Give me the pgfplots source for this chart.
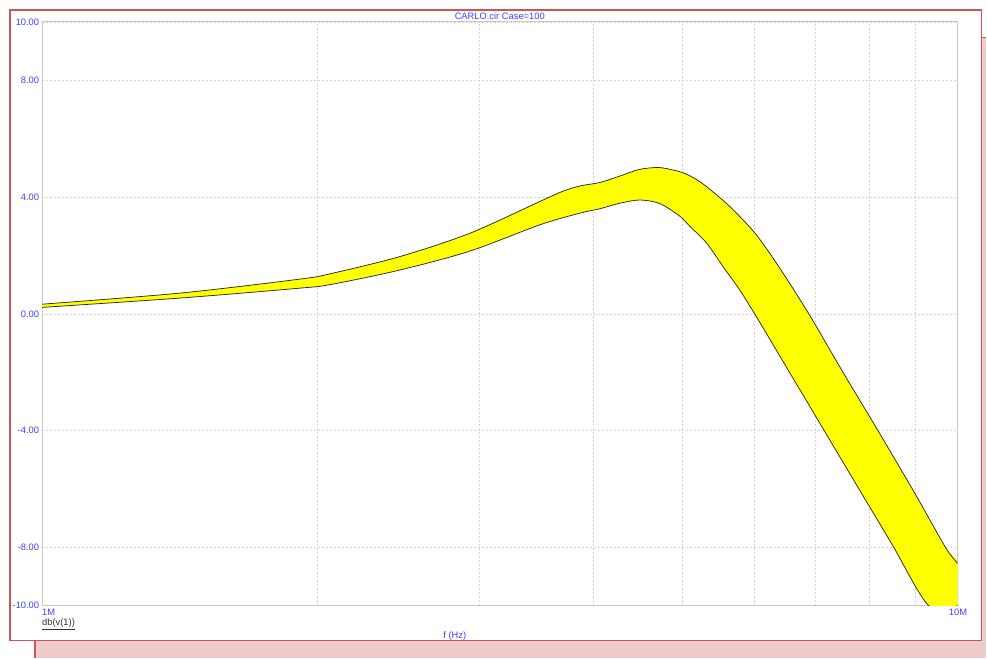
\documentclass[border=0pt]{standalone}
\usepackage{fontspec}
\setmainfont{Liberation Sans}
\usepackage{pgfplots}
\pgfplotsset{compat=1.18}
\definecolor{lblue}{RGB}{64,64,255}
\definecolor{winred}{RGB}{208,84,84}
\definecolor{shpink}{RGB}{238,204,204}
\definecolor{gridgray}{RGB}{212,212,212}
\definecolor{framegray}{RGB}{200,200,200}
\definecolor{bandyellow}{RGB}{255,255,0}
\begin{document}
\fontsize{7}{8.4}\selectfont
\begin{tikzpicture}
\begin{scope}[x=0.75pt,y=0.75pt]
\path (0,0) rectangle (987,658);
\fill[shpink] (35,0) rectangle (987,620);
\draw[winred, line width=0.8pt] (35,0) -- (35,620) -- (987,620);
\filldraw[fill=white, draw=winred, line width=1.1pt] (10,17) rectangle (982,648);
\end{scope}
\begin{axis}[
  at={(31.5pt,39pt)}, anchor=south west,
  scale only axis, width=687pt, height=438pt,
  xmode=log, xmin=1e6, xmax=1e7, ymin=-10, ymax=10,
  xtick={1e6,1e7}, xticklabel=\empty,
  ytick={-10,-8,-4,0,4,8,10},
  yticklabels={-10.00,-8.00,-4.00,0.00,4.00,8.00,10.00},
  yticklabel style={font=\fontsize{7}{8}\selectfont, text=lblue, inner sep=0pt, xshift=-2pt},
  major tick length=0pt, minor tick length=0pt,
  ymajorgrids, xminorgrids,
  grid style={gridgray, dash pattern=on 1.5pt off 1.5pt, line width=0.4pt},
  minor grid style={gridgray, dash pattern=on 1.5pt off 1.5pt, line width=0.4pt},
  axis line style={framegray, line width=0.75pt},
  clip=true,
]
% band: upper edge forward, lower edge backward
\addplot[fill=bandyellow, draw=none, smooth, tension=0.5] coordinates {
(1.000e6,0.33) (1.415e6,0.71) (1.913e6,1.19) (2.063e6,1.37) (2.459e6,1.96)
(2.933e6,2.76) (3.498e6,3.85) (3.706e6,4.20) (3.868e6,4.38) (4.067e6,4.50)
(4.276e6,4.72) (4.496e6,4.95) (4.728e6,5.01) (4.971e6,4.87) (5.099e6,4.73)
(5.228e6,4.53) (5.362e6,4.27) (5.638e6,3.68) (5.977e6,2.85) (6.234e6,2.08)
(6.554e6,1.05) (6.836e6,0.14) (7.010e6,-0.43) (7.432e6,-1.80) (7.816e6,-2.95)
(8.257e6,-4.20) (9.0e6,-6.20) (9.7e6,-8.00) (1e7,-8.55)
(1e7,-10.00) (9.3e6,-10.00) (8.5e6,-7.95) (8.015e6,-6.61) (7.188e6,-4.12)
(6.836e6,-2.97) (6.554e6,-2.01) (6.286e6,-1.05) (6.003e6,0.00) (5.781e6,0.82)
(5.544e6,1.62) (5.318e6,2.43) (5.099e6,3.00) (4.971e6,3.35) (4.728e6,3.78)
(4.496e6,3.90) (4.276e6,3.79) (4.067e6,3.60) (3.868e6,3.45) (3.498e6,3.05)
(2.933e6,2.15) (2.459e6,1.50) (2.063e6,1.00) (1.913e6,0.88) (1.415e6,0.54)
(1.000e6,0.22)};
\addplot[black!85, line width=0.55pt, smooth, tension=0.5] coordinates {
(1.000e6,0.33) (1.415e6,0.71) (1.913e6,1.19) (2.063e6,1.37) (2.459e6,1.96)
(2.933e6,2.76) (3.498e6,3.85) (3.706e6,4.20) (3.868e6,4.38) (4.067e6,4.50)
(4.276e6,4.72) (4.496e6,4.95) (4.728e6,5.01) (4.971e6,4.87) (5.099e6,4.73)
(5.228e6,4.53) (5.362e6,4.27) (5.638e6,3.68) (5.977e6,2.85) (6.234e6,2.08)
(6.554e6,1.05) (6.836e6,0.14) (7.010e6,-0.43) (7.432e6,-1.80) (7.816e6,-2.95)
(8.257e6,-4.20) (9.0e6,-6.20) (9.7e6,-8.00) (1e7,-8.55)};
\addplot[black!85, line width=0.55pt, smooth, tension=0.5] coordinates {
(1.000e6,0.22) (1.415e6,0.54) (1.913e6,0.88) (2.063e6,1.00) (2.459e6,1.50)
(2.933e6,2.15) (3.498e6,3.05) (3.868e6,3.45) (4.067e6,3.60) (4.276e6,3.79)
(4.496e6,3.90) (4.728e6,3.78) (4.971e6,3.35) (5.099e6,3.00) (5.318e6,2.43)
(5.544e6,1.62) (5.781e6,0.82) (6.003e6,0.00) (6.286e6,-1.05) (6.554e6,-2.01)
(6.836e6,-2.97) (7.188e6,-4.12) (8.015e6,-6.61) (8.5e6,-7.95) (9.3e6,-10.00)
(1e7,-10.00)};
\end{axis}
\begin{scope}[x=0.75pt,y=0.75pt]
\node[text=lblue, inner sep=0pt] at (500,642) {CARLO.cir Case=100};
\node[text=lblue, anchor=west, inner sep=0pt] at (42,45) {1M};
\node[text=lblue, inner sep=0pt] at (958.5,45) {10M};
\node[text=black!80, anchor=west, inner sep=0pt] at (42,33) {\underline{db(v(1))}};
\node[text=lblue, inner sep=0pt] at (455,22) {f (Hz)};
\end{scope}
\end{tikzpicture}
\end{document}
